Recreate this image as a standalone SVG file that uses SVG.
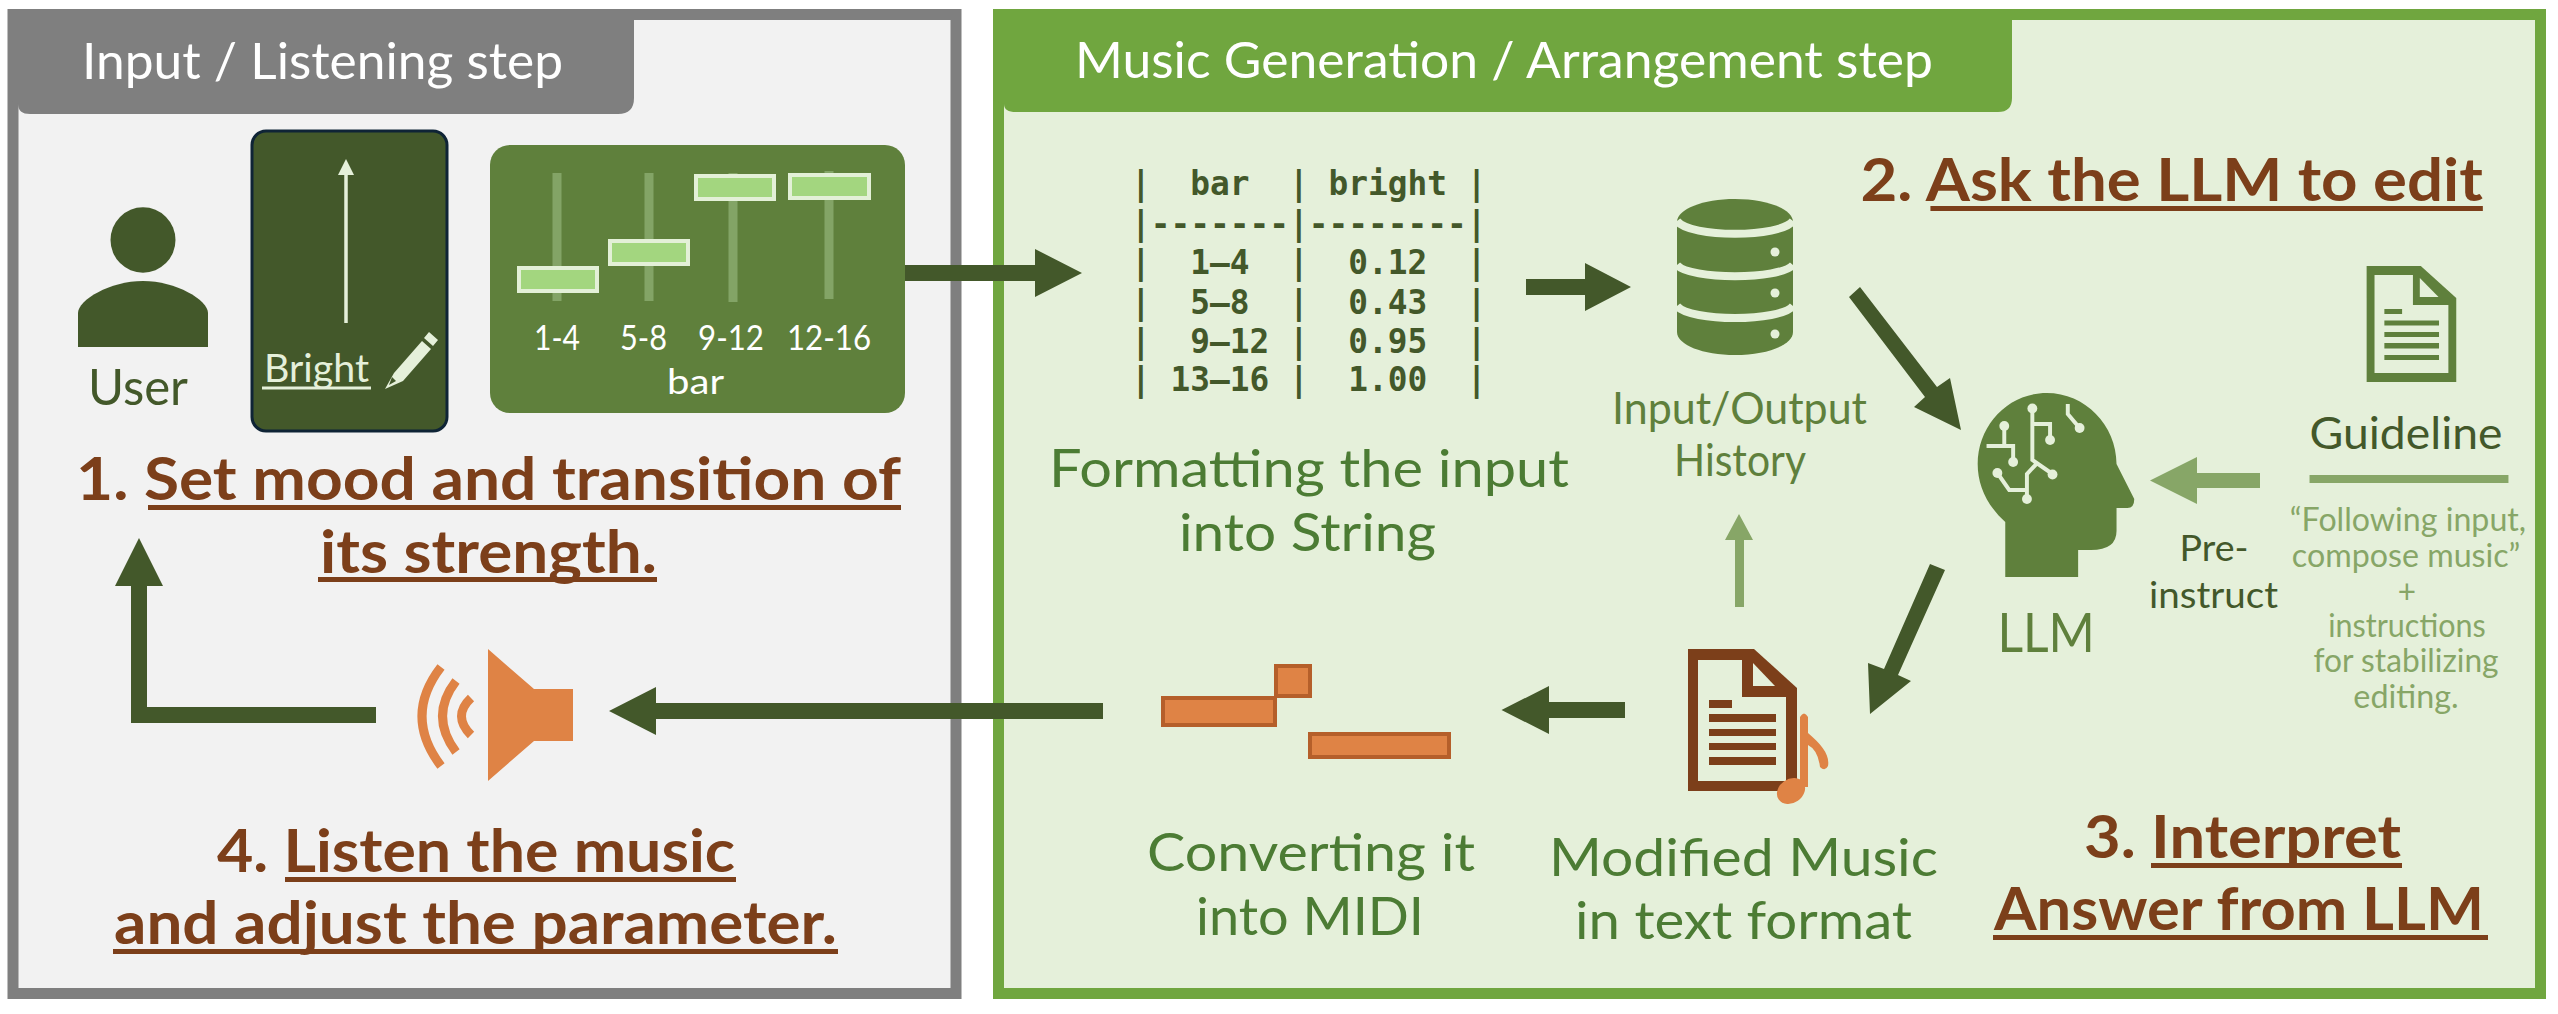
<svg xmlns="http://www.w3.org/2000/svg" width="2558" height="1014" viewBox="0 0 2558 1014">
<style>
text{font-family:Lato,"Liberation Sans",sans-serif;white-space:pre}
.t{font-size:51px;fill:#fff}
.h{font-size:59px;font-weight:700;fill:#7c3f1a}
.u{fill:#7c3f1a}
.g{font-size:52px;fill:#4c7c34}
.m{font-size:32.800px;font-weight:700;fill:#43582a;font-family:"DejaVu Sans Mono","Liberation Mono",monospace}
.q{font-size:32px;fill:#87a667;text-anchor:middle}
.s{font-size:35px;fill:#fff}
.dk{fill:#43582a}.md{fill:#5f803c}.lt{fill:#87a667}.or{fill:#df8345}.br{fill:#7c3f1a}.bg{fill:#e5f0da}
.knob{fill:#a3d67f;stroke:#e3f0d7;stroke-width:4}
.track{fill:#83a466}
.note{fill:#df8345;stroke:#b55f2a;stroke-width:4}
.cir{fill:none;stroke:#e5f0da;stroke-width:4}
.wave{fill:none;stroke:#df8345;stroke-width:9}
</style>
<rect width="2558" height="1014" fill="#fff"/>
<g id="panel-input">
<rect x="13" y="14.500" width="943" height="979" fill="#f2f2f2" stroke="#7f7f7f" stroke-width="11"/>
<path d="M8 9H634V98Q634 114 618 114H30Q18 114 18 104L8 100Z" fill="#7f7f7f"/>
<text class="t" x="82" y="79" textLength="481" lengthAdjust="spacingAndGlyphs">Input / Listening step</text>
</g>
<g id="panel-generation">
<rect x="998.500" y="14.500" width="1542" height="979" fill="#e5f0da" stroke="#70a63f" stroke-width="11"/>
<path d="M993 9H2012V98Q2012 112 1998 112H1016Q1004 112 1004 104L993 100Z" fill="#70a63f"/>
<text class="t" x="1075" y="78" textLength="858" lengthAdjust="spacingAndGlyphs">Music Generation / Arrangement step</text>
</g>
<g id="user">
<ellipse class="dk" cx="143" cy="240" rx="32.500" ry="32.700"/>
<path class="dk" d="M78 347V313C78 300 110 281 143 281C176 281 208 300 208 313V347Z"/>
<text x="88" y="405" style="font-size:50px;fill:#43582a" textLength="100" lengthAdjust="spacingAndGlyphs">User</text>
</g>
<g id="bright-card">
<rect x="252" y="131" width="195" height="300" rx="14" fill="#43582a" stroke="#0f2436" stroke-width="3"/>
<path d="M346 323V170" stroke="#e5f0da" stroke-width="3.500" fill="none"/>
<path d="M346 159L354 175H338Z" fill="#e5f0da"/>
<text x="264" y="382" style="font-size:38px;fill:#e5f0da" textLength="105" lengthAdjust="spacingAndGlyphs">Bright</text>
<rect x="262" y="386.500" width="109" height="3" fill="#e5f0da"/>
<path d="M429 332L438 340L433 346L424 338ZM422 341L431 349L403 381L385 389L394 373Z" fill="#e5f0da"/>
<path d="M392 377L396 381L389 385Z" fill="#43582a"/>
</g>
<g id="slider-card">
<rect class="md" x="490" y="145" width="415" height="268" rx="20"/>
<rect class="track" x="552.500" y="173" width="9" height="128"/>
<rect class="track" x="644.500" y="173" width="9" height="128"/>
<rect class="track" x="728.500" y="173" width="9" height="129"/>
<rect class="track" x="824.500" y="171" width="9" height="128"/>
<rect class="knob" x="519" y="268" width="78" height="23"/>
<rect class="knob" x="610" y="241" width="78" height="23"/>
<rect class="knob" x="696" y="176" width="78" height="23"/>
<rect class="knob" x="790" y="175" width="79" height="23"/>
<text class="s" x="534" y="350" textLength="46" lengthAdjust="spacingAndGlyphs">1-4</text>
<text class="s" x="620" y="350" textLength="47" lengthAdjust="spacingAndGlyphs">5-8</text>
<text class="s" x="698" y="350" textLength="66" lengthAdjust="spacingAndGlyphs">9-12</text>
<text class="s" x="787" y="350" textLength="84" lengthAdjust="spacingAndGlyphs">12-16</text>
<text class="s" x="667" y="394" textLength="57" lengthAdjust="spacingAndGlyphs">bar</text>
</g>
<g id="step1">
<text class="h" x="76" y="500" textLength="825" lengthAdjust="spacingAndGlyphs">1. Set mood and transition of</text>
<rect class="u" x="148" y="505" width="753" height="5"/>
<text class="h" x="320" y="573" textLength="337" lengthAdjust="spacingAndGlyphs">its strength.</text>
<rect class="u" x="318" y="577" width="339" height="5"/>
</g>
<g id="step4">
<text class="h" x="217" y="872" textLength="518" lengthAdjust="spacingAndGlyphs">4. Listen the music</text>
<rect class="u" x="285" y="877" width="451" height="5"/>
<text class="h" x="114" y="944" textLength="723" lengthAdjust="spacingAndGlyphs">and adjust the parameter.</text>
<rect class="u" x="113" y="949" width="725" height="5"/>
</g>
<g id="speaker">
<path class="or" d="M488 649L534 689H573V741H534L488 781Z"/>
<path class="wave" d="M441 667Q403 716 441 766"/>
<path class="wave" d="M456 681Q429 716 456 752"/>
<path class="wave" d="M471 698Q452 716 471 735"/>
</g>
<g id="table">
<text class="m" x="1131" y="195">|  bar  | bright |</text>
<text class="m" x="1131" y="235">|-------|--------|</text>
<text class="m" x="1131" y="274">|  1–4  |  0.12  |</text>
<text class="m" x="1131" y="314">|  5–8  |  0.43  |</text>
<text class="m" x="1131" y="353">|  9–12 |  0.95  |</text>
<text class="m" x="1131" y="391">| 13–16 |  1.00  |</text>
<text class="g" x="1049" y="487" textLength="520" lengthAdjust="spacingAndGlyphs">Formatting the input</text>
<text class="g" x="1179" y="551" textLength="257" lengthAdjust="spacingAndGlyphs">into String</text>
</g>
<g id="history">
<path class="md" d="M1677 222C1677 209 1703 199 1735 199C1767 199 1793 209 1793 222V332C1793 345 1767 355 1735 355C1703 355 1677 345 1677 332Z"/>
<path d="M1677 221C1690 238 1780 238 1793 221M1677 265C1690 280 1780 280 1793 265M1677 306C1690 322 1780 322 1793 306" fill="none" stroke="#e5f0da" stroke-width="8"/>
<circle class="bg" cx="1775" cy="252" r="4.500"/>
<circle class="bg" cx="1775" cy="293" r="4.500"/>
<circle class="bg" cx="1775" cy="334" r="4.500"/>
<text x="1612" y="424" style="font-size:45px;fill:#5f803c" textLength="255" lengthAdjust="spacingAndGlyphs">Input/Output</text>
<text x="1674" y="476" style="font-size:45px;fill:#5f803c" textLength="132" lengthAdjust="spacingAndGlyphs">History</text>
</g>
<g id="llm" transform="translate(27 0) scale(.9847 1)">
<path class="md" d="M2009 577V522C1990 505 1981 485 1981 464C1981 425 2012 393 2051 393C2090 393 2122 425 2122 464L2140 499Q2140 508 2133 508H2122V531Q2122 550 2096 550H2083V577Z"/>
<path class="cir" d="M2036.500 408V460L2057 474M2036.500 424H2054.500V440M2008 426V446M1990 446H2017V462M2072.500 404V414L2084.500 428M2001 473L2013 490H2031V499M2031 490V474L2041.500 463"/>
<g class="bg"><circle cx="2036.500" cy="408.500" r="5"/><circle cx="2057" cy="474.500" r="5"/><circle cx="2054.500" cy="440" r="5"/><circle cx="2008" cy="426" r="5"/><circle cx="2017" cy="462" r="5"/><circle cx="2084.500" cy="428" r="5"/><circle cx="2001" cy="473" r="5"/><circle cx="2031" cy="499" r="5"/></g>
<text x="2001" y="652" style="font-size:54px;fill:#5f803c" textLength="99" lengthAdjust="spacingAndGlyphs">LLM</text>
</g>
<g id="step2" transform="translate(27 0) scale(.9847 1)">
<text class="h" x="1862" y="201" textLength="632" lengthAdjust="spacingAndGlyphs">2. Ask the LLM to edit</text>
<rect class="u" x="1933" y="206" width="561" height="5"/>
</g>
<g id="guideline" transform="translate(27 0) scale(.9847 1)">
<path class="md" d="M2376 266H2431L2467 298V382H2376Z"/>
<path class="bg" d="M2384 275H2423V305H2459V373H2384Z"/>
<path class="bg" d="M2430 278V297H2449Z"/>
<path class="md" d="M2394 309H2412V314H2394ZM2394 320.500H2449.500V325.500H2394ZM2394 332H2449.500V337H2394ZM2394 343H2449.500V348.500H2394ZM2394 355H2449.500V360H2394Z"/>
<text x="2318" y="449" style="font-size:44px;fill:#43582a" textLength="196" lengthAdjust="spacingAndGlyphs">Guideline</text>
<rect class="lt" x="2318" y="475" width="202" height="8"/>
<text class="q" x="2418" y="531" textLength="240" lengthAdjust="spacingAndGlyphs">“Following input,</text>
<text class="q" x="2416" y="567" textLength="232" lengthAdjust="spacingAndGlyphs">compose music”</text>
<text class="q" x="2417" y="603">+</text>
<text class="q" x="2417" y="637" textLength="160" lengthAdjust="spacingAndGlyphs">instructions</text>
<text class="q" x="2416" y="672" textLength="188" lengthAdjust="spacingAndGlyphs">for stabilizing</text>
<text class="q" x="2416" y="708" textLength="107" lengthAdjust="spacingAndGlyphs">editing.</text>
</g>
<g id="pre-instruct" transform="translate(27 0) scale(.9847 1)">
<text x="2186" y="561" style="font-size:37px;fill:#43582a" textLength="70" lengthAdjust="spacingAndGlyphs">Pre-</text>
<text x="2155" y="608" style="font-size:37px;fill:#43582a" textLength="131" lengthAdjust="spacingAndGlyphs">instruct</text>
</g>
<g id="step3">
<text class="h" x="2084" y="858" textLength="317" lengthAdjust="spacingAndGlyphs">3. Interpret</text>
<rect class="u" x="2151" y="863" width="251" height="5"/>
<text class="h" x="1994" y="930" textLength="490" lengthAdjust="spacingAndGlyphs">Answer from LLM</text>
<rect class="u" x="1993" y="935" width="495" height="5"/>
</g>
<g id="modified-music">
<path class="br" d="M1688 649H1754L1797 688V791H1688Z"/>
<path class="bg" d="M1698 660H1742V697H1786V781H1698Z"/>
<path class="bg" d="M1753 663V686H1775Z"/>
<path class="br" d="M1709 700H1732V708H1709ZM1709 714H1776V722H1709ZM1709 729H1776V736H1709ZM1709 743H1776V750H1709ZM1709 757H1776V765H1709Z"/>
<ellipse class="or" cx="1791" cy="791" rx="15" ry="12" transform="rotate(-35 1791 791)"/>
<path class="or" d="M1800 787V717Q1804 710 1808 717V733C1822 745 1830 755 1828 766Q1825 772 1820 767Q1818 750 1808 745V787Z"/>
<text class="g" x="1549" y="876" textLength="389" lengthAdjust="spacingAndGlyphs">Modified Music</text>
<text class="g" x="1575" y="939" textLength="337" lengthAdjust="spacingAndGlyphs">in text format</text>
</g>
<g id="midi">
<rect class="note" x="1163" y="698" width="112" height="27"/>
<rect class="note" x="1276" y="666" width="34" height="30"/>
<rect class="note" x="1310" y="734" width="139" height="23"/>
<text class="g" x="1147" y="871" textLength="328" lengthAdjust="spacingAndGlyphs">Converting it</text>
<text class="g" x="1196" y="935" textLength="228" lengthAdjust="spacingAndGlyphs">into MIDI</text>
</g>
<g id="connectors">
<path class="dk" d="M905 265H1035V249L1082 273L1035 297V281H905Z"/>
<path class="dk" d="M1526 279H1585V263L1631 287L1585 311V295H1526Z"/>
<path class="lt" d="M1735 607V540H1725L1739 514L1753 540H1744V607Z"/>
<path class="dk" d="M1849 297L1860 287L1937 387L1950 378L1961 430L1914 407L1925 397Z"/>
<path class="lt" d="M2260 473H2197V457L2150 480.500L2197 504V488H2260Z"/>
<path class="dk" d="M1930 564L1945 570L1898 675L1911 681L1870 714L1868 663L1884 669Z"/>
<path class="dk" d="M1625 702H1549V686L1501.500 710L1549 734V718H1625Z"/>
<path class="dk" d="M1103 703H656V687L609 711L656 735V719H1103Z"/>
<path class="dk" d="M376 707H147V586H163L139 538L115 586H131V723H376Z"/>
</g>
</svg>
